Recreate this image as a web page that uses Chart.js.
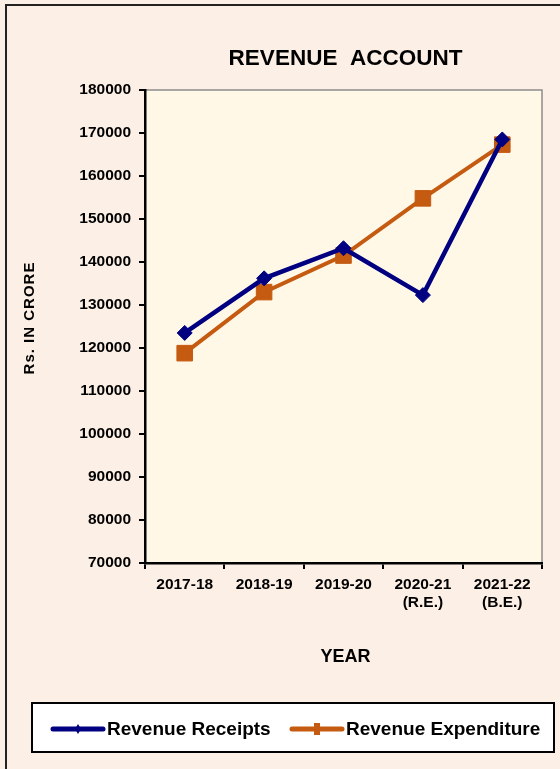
<!DOCTYPE html>
<html>
<head>
<meta charset="utf-8">
<script src="https://cdn.jsdelivr.net/npm/chart.js@4"></script>
<style>
  body { margin: 0; background: #fcefe6; }
  canvas { display: block; }
</style>
</head>
<body>
<canvas id="myChart" width="560" height="769"></canvas>
<script>
// datos
var anios = ["2017-18", "2018-19", "2019-20", ["2020-21", "(R.E.)"], ["2021-22", "(B.E.)"]];
var ingresos = [123500, 136200, 143200, 132300, 168500];
var gastos = [118800, 133000, 141500, 154800, 167300];
var yMin = 70000;
var yMax = 180000;
var yPaso = 10000;

var colorAzul = "#000080";
var colorNaranja = "#c55a11";

//Fondos, bordes, titulos y leyenda
const fondoPlugin = {
  id: "fondo",
  beforeDraw: (chart) => {
    const { ctx, chartArea } = chart;
    ctx.save();
    ctx.fillStyle = "#fcefe6";
    ctx.fillRect(0, 0, chart.width, chart.height);
    // borde exterior solo arriba e izquierda
    ctx.strokeStyle = "#222";
    ctx.lineWidth = 2;
    ctx.beginPath();
    ctx.moveTo(6, chart.height);
    ctx.lineTo(6, 5);
    ctx.lineTo(chart.width, 5);
    ctx.stroke();
    ctx.fillStyle = "#fff8e7";
    ctx.fillRect(chartArea.left, chartArea.top, chartArea.right - chartArea.left, chartArea.bottom - chartArea.top);
    // borde gris arriba y a la derecha
    ctx.strokeStyle = "#8c8c8c";
    ctx.lineWidth = 1.5;
    ctx.beginPath();
    ctx.moveTo(chartArea.left, chartArea.top);
    ctx.lineTo(chartArea.right, chartArea.top);
    ctx.lineTo(chartArea.right, chartArea.bottom);
    ctx.stroke();
    ctx.restore();
  },
  afterDraw: (chart) => {
    const { ctx, chartArea } = chart;
    const centroX = (chartArea.left + chartArea.right) / 2;
    ctx.save();
    ctx.fillStyle = "#000";
    ctx.textAlign = "center";
    ctx.textBaseline = "middle";
    ctx.font = "bold 22.5px Arial";
    ctx.fillText("REVENUE  ACCOUNT", centroX + 2, 59);
    ctx.font = "bold 18px Arial";
    ctx.fillText("YEAR", centroX + 2, 657);
    // titulo eje y
    ctx.translate(30, 318);
    ctx.rotate(-Math.PI / 2);
    ctx.font = "bold 15px Arial";
    ctx.letterSpacing = "1px";
    ctx.fillText("Rs. IN CRORE", 0, 0);
    ctx.restore();

    // leyenda
    ctx.save();
    ctx.fillStyle = "#fff";
    ctx.fillRect(32, 703, 522, 49);
    ctx.strokeStyle = "#000";
    ctx.lineWidth = 2;
    ctx.strokeRect(32, 703, 522, 49);
    const items = [
      { x: 53, texto: chart.data.datasets[0].label, color: colorAzul, tipo: "rombo" },
      { x: 292, texto: chart.data.datasets[1].label, color: colorNaranja, tipo: "cuadro" },
    ];
    const y = 729;
    items.forEach((it) => {
      ctx.strokeStyle = it.color;
      ctx.fillStyle = it.color;
      ctx.lineWidth = 5;
      ctx.lineCap = "round";
      ctx.beginPath();
      ctx.moveTo(it.x, y);
      ctx.lineTo(it.x + 50, y);
      ctx.stroke();
      if (it.tipo === "rombo") {
        ctx.beginPath();
        ctx.moveTo(it.x + 25, y - 5);
        ctx.lineTo(it.x + 28, y);
        ctx.lineTo(it.x + 25, y + 5);
        ctx.lineTo(it.x + 22, y);
        ctx.fill();
      } else {
        ctx.fillRect(it.x + 22, y - 6, 6, 12);
      }
      ctx.fillStyle = "#000";
      ctx.font = "bold 19px Arial";
      ctx.textAlign = "left";
      ctx.textBaseline = "middle";
      ctx.fillText(it.texto, it.x + 54, y + 1);
    });
    ctx.restore();
  },
};

const data = {
  labels: anios,
  datasets: [
    {
      label: "Revenue Receipts",
      data: ingresos,
      borderColor: colorAzul,
      backgroundColor: colorAzul,
      borderWidth: 4.5,
      pointStyle: "rectRot",
      pointRadius: 7.5,
      pointBorderWidth: 1,
    },
    {
      label: "Revenue Expenditure",
      data: gastos,
      borderColor: colorNaranja,
      backgroundColor: colorNaranja,
      borderWidth: 4,
      pointStyle: "rect",
      pointRadius: 11,
      pointBorderWidth: 1,
    },
  ],
};

const config = {
  type: "line",
  data: data,
  plugins: [fondoPlugin],
  options: {
    responsive: false,
    animation: false,
    events: [],
    layout: { padding: { top: 90, right: 18, bottom: 0, left: 0 } },
    plugins: {
      legend: { display: false },
      tooltip: { enabled: false },
      title: { display: false },
    },
    scales: {
      x: {
        offset: true,
        grid: { offset: true, drawOnChartArea: false, drawTicks: true, tickLength: 6, color: "#000", lineWidth: 2 },
        border: { color: "#000", width: 2.5 },
        ticks: { color: "#000", font: { family: "Arial", size: 15.5, weight: "bold" }, padding: 6, maxRotation: 0 },
        afterFit: (scale) => { scale.height = 206; },
      },
      y: {
        min: yMin,
        max: yMax,
        grid: { drawOnChartArea: false, drawTicks: true, tickLength: 6, color: "#000", lineWidth: 2 },
        border: { color: "#000", width: 2.5 },
        ticks: {
          stepSize: yPaso,
          color: "#000",
          font: { family: "Arial", size: 15.5, weight: "bold" },
          padding: 8,
          callback: (v) => v.toString(),
        },
        afterFit: (scale) => { scale.width = 145; },
      },
    },
  },
};

const myChart = new Chart(document.getElementById("myChart"), config);
</script>
</body>
</html>
